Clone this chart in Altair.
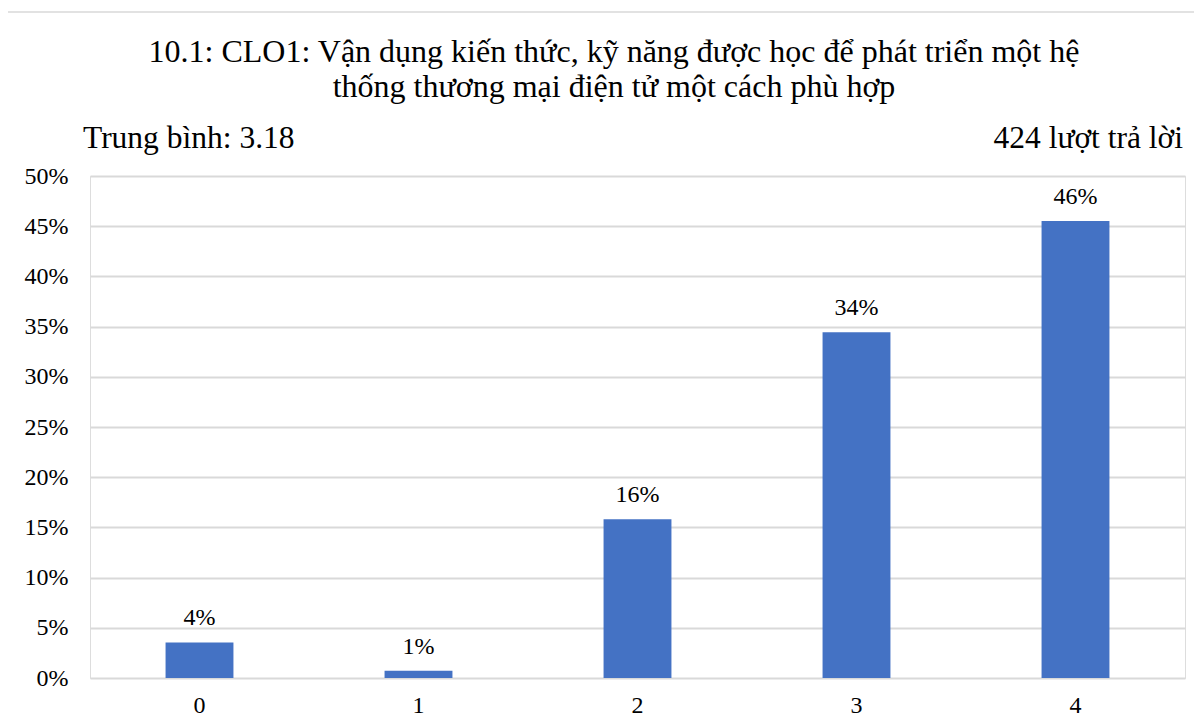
import altair as alt
import pandas as pd

# ---- data ----
categories = ["0", "1", "2", "3", "4"]
shares = [0.0354, 0.0071, 0.1580, 0.3443, 0.4552]
y_ticks = [0, 0.05, 0.10, 0.15, 0.20, 0.25, 0.30, 0.35, 0.40, 0.45, 0.50]
title_lines = "10.1: CLO1: Vận dụng kiến thức, kỹ năng được học để phát triển một hệ\nthống thương mại điện tử một cách phù hợp"
left_note = "Trung bình: 3.18"
right_note = "424 lượt trả lời"

FONT = "Liberation Serif"
BAR = "#4472C4"
GRID = "#D9D9D9"

df = pd.DataFrame({"cat": categories, "share": shares})

W, H = 1095, 502

x_enc = alt.X(
    "cat:N",
    sort=categories,
    scale=alt.Scale(paddingInner=0.69, paddingOuter=0.345),
    axis=alt.Axis(
        title=None, labelAngle=0, domain=False, ticks=False,
        labelFont=FONT, labelFontSize=24, labelColor="#000000", labelPadding=15,
    ),
)
y_enc = alt.Y(
    "share:Q",
    scale=alt.Scale(domain=[0, 0.5], nice=False),
    axis=alt.Axis(
        title=None, format=".0%", values=y_ticks, domain=False, ticks=False,
        grid=True, gridColor=GRID, gridWidth=2,
        labelFont=FONT, labelFontSize=24, labelColor="#000000", labelPadding=22,
        labelBaseline="middle",
    ),
)

base = alt.Chart(df)
bars = base.mark_bar(color=BAR).encode(x=x_enc, y=y_enc)
vals = base.mark_text(
    font=FONT, fontSize=24, color="#000000", baseline="alphabetic", dy=-17
).encode(x=x_enc, y=y_enc, text=alt.Text("share:Q", format=".0%"))

one = pd.DataFrame({"k": [0]})

title = alt.Chart(pd.DataFrame({"t": [title_lines]})).mark_text(
    font=FONT, fontSize=32, color="#000000", align="center",
    baseline="alphabetic", lineBreak="\n", lineHeight=35,
).encode(text="t:N", x=alt.value(524), y=alt.value(-114))

left = alt.Chart(pd.DataFrame({"t": [left_note]})).mark_text(
    font=FONT, fontSize=31.5, color="#000000", align="left", baseline="alphabetic",
).encode(text="t:N", x=alt.value(-7), y=alt.value(-28))

right = alt.Chart(pd.DataFrame({"t": [right_note]})).mark_text(
    font=FONT, fontSize=31.5, color="#000000", align="right", baseline="alphabetic",
).encode(text="t:N", x=alt.value(1093), y=alt.value(-28))

border = alt.Chart(one).mark_rect(
    fill=None, stroke=GRID, strokeWidth=1.5
).encode(x=alt.value(-83), x2=alt.value(1300), y=alt.value(-164), y2=alt.value(900))

chart = alt.layer(border, bars, vals, title, left, right).properties(
    width=W, height=H,
    autosize=alt.AutoSizeParams(type="none"),
    padding={"left": 82, "top": 168, "right": 9, "bottom": 42},
).configure_view(stroke=None).configure(background="white")

chart.save("out.html", embed_options={"renderer": "svg", "actions": False})
